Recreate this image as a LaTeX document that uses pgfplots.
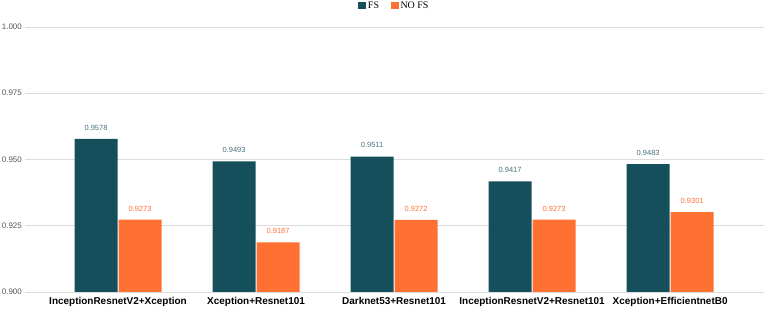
\documentclass[border=0pt]{standalone}
\usepackage{pgfplots}
\pgfplotsset{compat=1.18}
\usepackage{fontspec}
\setmainfont{Liberation Serif}
\newfontfamily\sans{Liberation Sans}
\definecolor{fs}{HTML}{154F5B}
\definecolor{nofs}{HTML}{FF7033}
\definecolor{gridc}{HTML}{DCDCDC}
\definecolor{tick}{HTML}{555555}
\begin{document}
\begin{tikzpicture}
\path[use as bounding box] (0,0) rectangle (764bp,310bp);
\begin{axis}[
  at={(25bp,18bp)}, anchor=south west,
  scale only axis, width=739bp, height=265bp,
  xmin=-0.674, xmax=4.68, ymin=0.9, ymax=1.0,
  axis line style={draw=none},
  ymajorgrids, xmajorgrids=false, grid style={draw=gridc, line width=0.8bp},
  ytick={0.9,0.925,0.95,0.975,1.0},
  yticklabel style={/pgf/number format/fixed, /pgf/number format/precision=3, /pgf/number format/fixed zerofill, font=\sans\fontsize{8}{9}\selectfont, text=tick, inner sep=1bp, xshift=-2bp},
  /pgf/number format/assume math mode=true,
  xtick={0,1,2,3,4},
  xtick style={draw=none},
  xticklabels={InceptionResnetV2+Xception, Xception+Resnet101, Darknet53+Resnet101, InceptionResnetV2+Resnet101, Xception+EfficientnetB0},
  xticklabel style={font=\sans\bfseries\fontsize{10}{11}\selectfont, inner sep=0pt, yshift=-5bp},
  major tick length=0pt,
  ybar=1bp, bar width=43bp,
  nodes near coords,
  every node near coord/.append style={font=\sans\fontsize{7.5}{8}\selectfont, /pgf/number format/fixed, /pgf/number format/precision=4, /pgf/number format/fixed zerofill, yshift=5bp},
  legend style={at={(0.5,1)}, anchor=center, yshift=21bp, draw=none, fill=none, legend columns=2, font=\fontsize{10}{11}\selectfont, /tikz/every even column/.append style={column sep=10bp}},
  legend image code/.code={\fill[#1] (0bp,-3.5bp) rectangle (7.5bp,4bp);},
]
\addplot[fill=fs, draw=none, every node near coord/.append style={text=fs!80!white}] coordinates {(0,0.9578) (1,0.9493) (2,0.9511) (3,0.9417) (4,0.9483)};
\addplot[fill=nofs, draw=none, every node near coord/.append style={text=nofs}] coordinates {(0,0.9273) (1,0.9187) (2,0.9272) (3,0.9273) (4,0.9301)};
\legend{FS, NO FS}
\end{axis}
\end{tikzpicture}
\end{document}
